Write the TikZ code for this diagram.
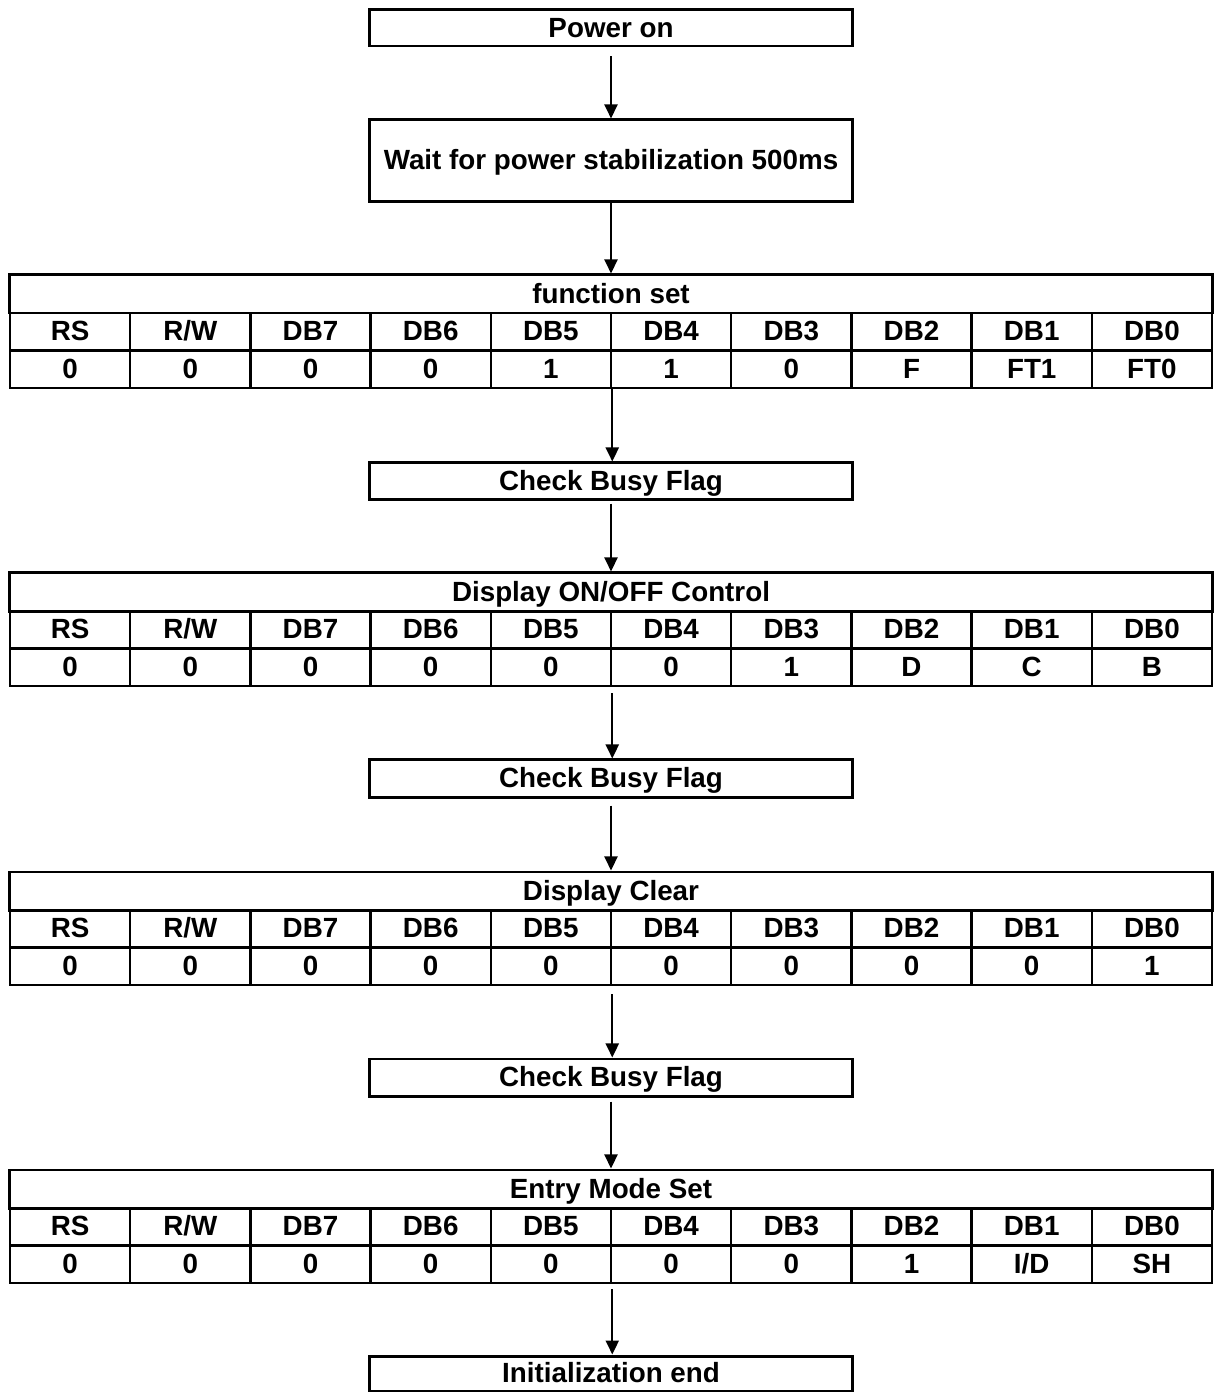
\documentclass[tikz,border=0pt]{standalone}
\usepackage{fontspec}
\setmainfont{Liberation Sans}
\usetikzlibrary{arrows.meta, positioning}

\tikzset{
  flowbox/.style={draw, line width=0.85pt, minimum width=4.82cm, minimum height=0.36cm, inner sep=0pt, text height=0.72em, text depth=0.2em},
  titlecell/.style={draw, line width=0.85pt, minimum width=12.02cm, minimum height=0.38cm, inner sep=0pt, text height=0.72em, text depth=0.2em},
  bitcell/.style={draw, line width=0.7pt, minimum width=1.202cm, minimum height=0.375cm, inner sep=0pt, text height=0.72em, text depth=0.2em},
  flow/.style={-{Triangle[width=0.13cm,length=0.14cm]}, line width=0.6pt},
}

% one instruction table: name, top edge, title, bit values
\newcommand{\regtable}[4]{%
  \node[titlecell] (#1) at (611,#2+19) {#3};
  \foreach \lab [count=\i from 0] in {RS,R/W,DB7,DB6,DB5,DB4,DB3,DB2,DB1,DB0}
    \node[bitcell] (#1-h\i) at (70.1+120.2*\i,#2+56.75) {\lab};
  \foreach \val [count=\i from 0] in {#4}
    \node[bitcell] (#1-v\i) at (70.1+120.2*\i,#2+94.25) {\val};
}

\begin{document}
\begin{tikzpicture}[x=0.01cm, y=-0.01cm, font=\fontsize{7.9}{9.5}\selectfont\bfseries]
    \useasboundingbox (0,0) rectangle (1219,1392);

    \node[flowbox] (power) at (611,28) {Power on};
    \node[flowbox, minimum height=0.81cm] (wait) at (611,160.5) {Wait for power stabilization 500ms};

    \regtable{fset}{275}{function set}{0,0,0,0,1,1,0,F,FT1,FT0}
    \node[flowbox] (busyA) at (611,481) {Check Busy Flag};

    \regtable{dctrl}{573}{Display ON/OFF Control}{0,0,0,0,0,0,1,D,C,B}
    \node[flowbox, minimum height=0.37cm] (busyB) at (611,778.5) {Check Busy Flag};

    \regtable{dclear}{872}{Display Clear}{0,0,0,0,0,0,0,0,0,1}
    \node[flowbox, minimum height=0.37cm] (busyC) at (611,1077.5) {Check Busy Flag};

    \regtable{emode}{1170}{Entry Mode Set}{0,0,0,0,0,0,0,1,I/D,SH}
    \node[flowbox, minimum height=0.35cm] (initend) at (611,1373.5) {Initialization end};

    % flow arrows
    \draw[flow, shorten <=0.09cm] (power) -- (wait);
    \draw[flow] (wait) -- (fset);
    \draw[flow] (fset-v4.south east) -- (fset-v4.south east |- busyA.north);
    \draw[flow, shorten <=0.03cm] (busyA) -- (dctrl);
    \draw[flow, shorten <=0.06cm] (dctrl-v4.south east) -- (dctrl-v4.south east |- busyB.north);
    \draw[flow, shorten <=0.07cm] (busyB) -- (dclear);
    \draw[flow, shorten <=0.08cm] (dclear-v4.south east) -- (dclear-v4.south east |- busyC.north);
    \draw[flow, shorten <=0.04cm] (busyC) -- (emode);
    \draw[flow, shorten <=0.05cm] (emode-v4.south east) -- (emode-v4.south east |- initend.north);
\end{tikzpicture}
\end{document}
